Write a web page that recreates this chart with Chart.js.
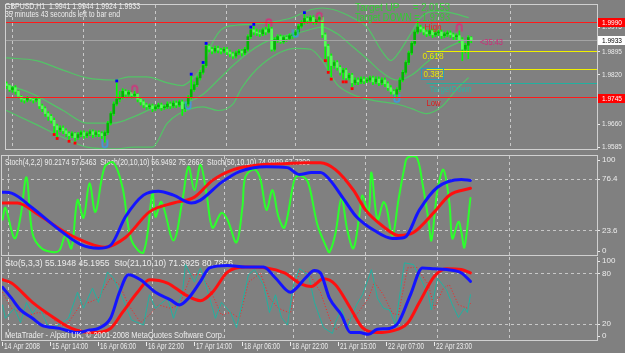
<!DOCTYPE html>
<html>
<head>
<meta charset="utf-8">
<title>GBPUSD,H1</title>
<script src="https://cdn.jsdelivr.net/npm/chart.js@4.4.1/dist/chart.umd.min.js"></script>
<style>
  html, body { margin: 0; padding: 0; background: #808080; }
  #wrap { position: relative; width: 625px; height: 353px; overflow: hidden; background: #808080; }
  canvas { position: absolute; left: 0; }
</style>
</head>
<body>
<div id="wrap">
  <canvas id="priceChart" width="625" height="155" style="top:0px"></canvas>
  <canvas id="stochChart" width="625" height="102" style="top:155px"></canvas>
  <canvas id="stoChart" width="625" height="96" style="top:257px"></canvas>
</div>
<script>
// GBPUSD H1, one candle per hour from 14 Apr 22:00 to 23 Apr 11:00
const opens = [1.9791,1.9785,1.9772,1.9778,1.9766,1.9750,1.9741,1.9738,1.9744,1.9741,1.9738,
  1.9741,1.9719,1.9710,1.9694,1.9685,1.9672,1.9654,1.9641,1.9647,1.9638,
  1.9629,1.9622,1.9629,1.9616,1.9626,1.9632,1.9622,1.9629,1.9635,1.9626,
  1.9632,1.9629,1.9622,1.9632,1.9663,1.9694,1.9725,1.9741,1.9747,1.9766,
  1.9757,1.9763,1.9753,1.9757,1.9741,1.9732,1.9722,1.9716,1.9719,1.9710,
  1.9716,1.9722,1.9713,1.9716,1.9725,1.9719,1.9728,1.9722,1.9732,1.9710,
  1.9725,1.9747,1.9772,1.9788,1.9810,1.9828,1.9850,1.9913,1.9903,1.9897,
  1.9906,1.9900,1.9897,1.9903,1.9894,1.9888,1.9881,1.9891,1.9897,1.9891,
  1.9903,1.9944,1.9966,1.9959,1.9956,1.9953,1.9966,1.9959,1.9969,1.9903,
  1.9934,1.9944,1.9928,1.9941,1.9938,1.9947,1.9950,1.9959,1.9978,1.9991,
  2.0003,1.9997,2.0006,1.9991,2.0000,2.0006,1.9950,1.9913,1.9881,1.9850,
  1.9860,1.9844,1.9828,1.9835,1.9810,1.9819,1.9794,1.9803,1.9797,1.9806,
  1.9800,1.9803,1.9810,1.9797,1.9806,1.9794,1.9803,1.9791,1.9778,1.9766,
  1.9757,1.9772,1.9803,1.9828,1.9860,1.9891,1.9922,1.9959,1.9975,1.9969,
  1.9959,1.9953,1.9963,1.9950,1.9956,1.9959,1.9947,1.9953,1.9956,1.9950,
  1.9944,1.9947,1.9934,1.9903,1.9916,1.9941];
const highs = [1.9797,1.9788,1.9781,1.9785,1.9769,1.9753,1.9747,1.9750,1.9747,1.9744,1.9747,
  1.9744,1.9725,1.9716,1.9700,1.9691,1.9679,1.9660,1.9654,1.9654,1.9644,
  1.9635,1.9635,1.9632,1.9632,1.9638,1.9638,1.9635,1.9641,1.9641,1.9638,
  1.9638,1.9635,1.9638,1.9669,1.9700,1.9732,1.9794,1.9766,1.9775,1.9772,
  1.9769,1.9769,1.9766,1.9760,1.9747,1.9738,1.9728,1.9725,1.9725,1.9722,
  1.9728,1.9728,1.9722,1.9732,1.9732,1.9735,1.9735,1.9738,1.9738,1.9732,
  1.9753,1.9816,1.9797,1.9816,1.9835,1.9853,1.9916,1.9919,1.9909,1.9913,
  1.9913,1.9906,1.9909,1.9909,1.9900,1.9894,1.9897,1.9903,1.9903,1.9909,
  1.9950,1.9969,1.9978,1.9969,1.9966,1.9972,1.9975,1.9984,1.9975,1.9941,
  1.9950,1.9950,1.9947,1.9947,1.9953,1.9956,1.9966,1.9984,1.9997,2.0016,
  2.0009,2.0012,2.0012,2.0006,2.0009,2.0009,1.9956,1.9919,1.9888,1.9866,
  1.9866,1.9850,1.9841,1.9841,1.9825,1.9825,1.9810,1.9810,1.9813,1.9813,
  1.9810,1.9816,1.9816,1.9813,1.9813,1.9810,1.9810,1.9797,1.9785,1.9772,
  1.9778,1.9810,1.9835,1.9866,1.9897,1.9928,1.9966,1.9994,1.9981,1.9975,
  1.9966,1.9969,1.9969,1.9963,1.9966,1.9966,1.9959,1.9963,1.9963,1.9956,
  1.9953,1.9963,1.9941,1.9922,1.9947,1.9944];
const lows = [1.9775,1.9766,1.9763,1.9757,1.9744,1.9732,1.9728,1.9732,1.9735,1.9728,1.9732,
  1.9710,1.9700,1.9685,1.9672,1.9663,1.9632,1.9619,1.9635,1.9629,1.9619,
  1.9610,1.9616,1.9604,1.9610,1.9619,1.9613,1.9616,1.9622,1.9616,1.9619,
  1.9619,1.9613,1.9601,1.9626,1.9657,1.9688,1.9719,1.9732,1.9741,1.9747,
  1.9750,1.9744,1.9747,1.9732,1.9722,1.9713,1.9707,1.9710,1.9700,1.9704,
  1.9710,1.9704,1.9707,1.9710,1.9710,1.9713,1.9713,1.9716,1.9688,1.9700,
  1.9719,1.9741,1.9766,1.9781,1.9803,1.9822,1.9844,1.9894,1.9888,1.9891,
  1.9891,1.9888,1.9891,1.9885,1.9878,1.9872,1.9875,1.9885,1.9881,1.9885,
  1.9897,1.9938,1.9950,1.9947,1.9944,1.9947,1.9950,1.9956,1.9897,1.9897,
  1.9925,1.9922,1.9922,1.9928,1.9931,1.9938,1.9941,1.9953,1.9972,1.9984,
  1.9987,1.9991,1.9984,1.9984,1.9994,1.9941,1.9872,1.9835,1.9813,1.9841,
  1.9835,1.9819,1.9806,1.9803,1.9803,1.9781,1.9788,1.9788,1.9791,1.9791,
  1.9794,1.9797,1.9788,1.9791,1.9785,1.9788,1.9781,1.9769,1.9757,1.9744,
  1.9747,1.9766,1.9797,1.9822,1.9853,1.9885,1.9916,1.9953,1.9959,1.9950,
  1.9944,1.9947,1.9941,1.9944,1.9947,1.9938,1.9941,1.9944,1.9941,1.9934,
  1.9934,1.9925,1.9866,1.9891,1.9872,1.9924];
const closes = [1.9785,1.9772,1.9778,1.9766,1.9750,1.9741,1.9738,1.9744,1.9741,1.9738,1.9741,
  1.9719,1.9710,1.9694,1.9685,1.9672,1.9654,1.9641,1.9647,1.9638,1.9629,
  1.9622,1.9629,1.9616,1.9626,1.9632,1.9622,1.9629,1.9635,1.9626,1.9632,
  1.9629,1.9622,1.9632,1.9663,1.9694,1.9725,1.9741,1.9747,1.9766,1.9757,
  1.9763,1.9753,1.9757,1.9741,1.9732,1.9722,1.9716,1.9719,1.9710,1.9716,
  1.9722,1.9713,1.9716,1.9725,1.9719,1.9728,1.9722,1.9732,1.9710,1.9725,
  1.9747,1.9772,1.9788,1.9810,1.9828,1.9850,1.9913,1.9903,1.9897,1.9906,
  1.9900,1.9897,1.9903,1.9894,1.9888,1.9881,1.9891,1.9897,1.9891,1.9903,
  1.9944,1.9966,1.9959,1.9956,1.9953,1.9966,1.9959,1.9969,1.9903,1.9934,
  1.9944,1.9928,1.9941,1.9938,1.9947,1.9950,1.9959,1.9978,1.9991,2.0003,
  1.9997,2.0006,1.9991,2.0000,2.0006,1.9950,1.9913,1.9881,1.9850,1.9860,
  1.9844,1.9828,1.9835,1.9810,1.9819,1.9794,1.9803,1.9797,1.9806,1.9800,
  1.9803,1.9810,1.9797,1.9806,1.9794,1.9803,1.9791,1.9778,1.9766,1.9757,
  1.9772,1.9803,1.9828,1.9860,1.9891,1.9922,1.9959,1.9975,1.9969,1.9959,
  1.9953,1.9963,1.9950,1.9956,1.9959,1.9947,1.9953,1.9956,1.9950,1.9944,
  1.9947,1.9934,1.9903,1.9916,1.9941,1.9933];

// Bollinger bands, read as [bar, price]
const bandUpper = [[0,1.9875],[10,1.9866],[19,1.9835],[27,1.9810],[36,1.9803],[41,1.9813],[47,1.9813],
  [54,1.9794],[59,1.9785],[62,1.9803],[66,1.9850],[69,1.9922],[72,1.9966],[77,1.9981],[82,1.9984],
  [89,1.9991],[96,2.0006],[101,2.0028],[106,2.0037],[111,2.0028],[116,2.0006],[121,1.9975],[126,1.9897],
  [129,1.9866],[132,1.9897],[136,1.9959],[139,2.0006],[144,2.0028],[149,2.0022],[155,2.0006]];
const bandMiddle = [[0,1.9788],[9,1.9757],[19,1.9704],[27,1.9663],[36,1.9663],[43,1.9685],[49,1.9710],
  [56,1.9725],[61,1.9732],[66,1.9757],[71,1.9803],[76,1.9850],[81,1.9891],[86,1.9922],[92,1.9944],
  [99,1.9959],[106,1.9975],[111,1.9953],[116,1.9913],[121,1.9872],[126,1.9828],[131,1.9803],[136,1.9819],
  [141,1.9860],[146,1.9897],[151,1.9922],[155,1.9934]];
const bandLower = [[0,1.9704],[9,1.9663],[19,1.9616],[27,1.9585],[36,1.9579],[43,1.9585],[49,1.9585],
  [54,1.9663],[62,1.9710],[66,1.9716],[71,1.9704],[76,1.9725],[79,1.9778],[86,1.9856],[97,1.9906],
  [102,1.9903],[106,1.9866],[111,1.9788],[116,1.9757],[121,1.9741],[126,1.9732],[131,1.9725],[136,1.9710],
  [141,1.9694],[146,1.9716],[151,1.9772],[155,1.9810]];

// fractals and signal arrows
const upFractalBars = [37,62,66,67,82,83,100];
const upFractalPrices = [1.9800,1.9822,1.9860,1.9922,1.9975,1.9984,2.0022];
const downFractalBars = [16,17,21,23,107,108,109,113,114,116];
const downFractalPrices = [1.9626,1.9613,1.9604,1.9598,1.9866,1.9828,1.9806,1.9797,1.9797,1.9775];
const sellArrowBars = [43,88,105,152];
const sellArrowPrices = [1.9775,1.9991,2.0012,1.9975];
const buyArrowBars = [33,61,97,131];
const buyArrowPrices = [1.9594,1.9719,1.9953,1.9741];

// levels drawn on the price window
const highLevel = 1.9990;
const lowLevel = 1.9745;
const fibo618 = 1.9896;
const fibo382 = 1.9838;
const targetUp = 2.0153;
const targetDown = 1.9793;
const fiboStartBar = 141;

// price axis and time axis
const priceTicks = [1.9975, 1.9895, 1.9820, 1.9660, 1.9585];
const dayStartBars = [2, 26, 50, 74, 97, 121, 145, 169];
const timeLabelBars = [0, 16, 32, 48, 64, 80, 96, 112, 128, 144];
const timeLabels = ['14 Apr 2008', '15 Apr 14:00', '16 Apr 06:00', '16 Apr 22:00', '17 Apr 14:00',
  '18 Apr 06:00', '18 Apr 22:00', '21 Apr 15:00', '22 Apr 07:00', '22 Apr 23:00'];

// Stoch(4,2,2), Stoch(20,10,10), Stoch(50,10,10) as [bar, value]
const stochFast = [[0,35],[1,47],[4,16],[6,38],[8,78],[10,21],[13,6],[17,2],[19,4],[21,19],[23,6],[25,55],
  [27,37],[29,72],[31,43],[34,88],[37,93],[40,68],[43,14],[47,2],[50,62],[51,38],[53,53],[57,14],[60,55],
  [62,89],[64,65],[66,91],[68,62],[70,27],[73,42],[75,35],[78,12],[80,48],[81,79],[84,86],[86,76],[88,45],
  [90,65],[92,38],[94,27],[97,72],[98,79],[100,79],[102,72],[105,30],[108,7],[109,2],[111,21],[113,57],
  [115,24],[117,6],[119,40],[120,60],[122,42],[123,83],[125,35],[127,53],[128,48],[130,19],[132,55],
  [134,88],[135,98],[138,99],[140,72],[142,35],[143,14],[145,65],[147,86],[149,52],[150,16],[152,33],
  [153,22],[154,7],[156,57]];
const stochMid = [[0,63],[3,62],[10,47],[18,27],[26,10],[32,6],[36,9],[41,38],[47,60],[52,64],[57,60],
  [63,52],[66,55],[73,73],[79,84],[88,89],[95,88],[99,81],[103,83],[106,83],[109,76],[114,55],[118,38],
  [124,24],[130,16],[134,17],[139,45],[145,68],[153,76],[156,75]];
const stochSlow = [[0,52],[5,52],[12,40],[21,22],[28,12],[34,7],[41,17],[49,43],[57,52],[64,58],[70,75],
  [77,86],[86,91],[94,92],[101,93],[106,93],[111,86],[117,65],[121,45],[127,28],[132,19],[137,22],
  [144,43],[149,60],[156,67]];
const stochTicks = [100, 76.4, 23.6, 0];
const stochLevels = [76.4, 23.6];

// Sto(5,3,3) main/signal and Sto(21,10,10) main/signal as [bar, value]
const sto5Main = [[0,43],[1,27],[4,39],[6,22],[8,46],[10,33],[12,43],[15,19],[17,16],[20,22],[22,27],
  [25,58],[27,39],[30,63],[32,46],[35,82],[37,75],[40,51],[43,25],[47,19],[49,55],[51,39],[55,51],[57,27],
  [60,58],[61,91],[64,70],[66,87],[68,64],[71,27],[73,46],[76,34],[78,16],[80,46],[82,79],[84,85],[87,67],
  [89,34],[91,55],[93,28],[95,19],[97,67],[99,86],[102,79],[104,46],[107,16],[110,9],[111,22],[113,39],
  [115,16],[118,43],[120,55],[123,85],[125,51],[127,39],[129,37],[131,19],[134,93],[137,91],[140,70],
  [142,55],[143,37],[145,75],[148,61],[150,43],[152,28],[154,39],[155,34],[156,55]];
const sto5Signal = [[0,58],[3,39],[6,34],[9,31],[12,34],[16,31],[19,16],[22,22],[26,43],[29,46],[32,51],
  [36,75],[39,67],[42,43],[46,22],[49,31],[52,43],[56,39],[59,43],[63,79],[66,79],[69,63],[73,31],[76,34],
  [79,27],[82,70],[86,81],[89,51],[92,39],[96,33],[99,84],[102,82],[106,58],[109,27],[111,13],[115,25],
  [118,31],[122,51],[124,70],[127,55],[130,33],[132,31],[135,87],[138,88],[142,67],[144,39],[147,63],
  [149,67],[152,43],[155,39],[156,45]];
const sto21Main = [[0,64],[3,51],[6,37],[10,27],[13,19],[19,15],[25,10],[29,13],[32,15],[36,27],[39,58],
  [42,79],[46,73],[51,58],[56,49],[59,43],[62,51],[66,71],[69,87],[75,90],[81,88],[87,88],[91,75],[96,58],
  [98,63],[101,75],[104,84],[106,81],[109,51],[113,31],[116,10],[119,10],[122,8],[125,14],[129,15],
  [132,22],[136,55],[140,87],[144,86],[148,85],[153,81],[156,71]];
const sto21Signal = [[0,73],[3,69],[10,46],[17,28],[23,15],[30,10],[36,15],[40,34],[45,58],[49,73],
  [55,69],[61,55],[66,48],[70,58],[75,82],[81,88],[88,87],[94,81],[99,69],[103,65],[107,74],[111,67],
  [116,39],[120,16],[125,10],[130,12],[135,21],[139,46],[144,77],[148,86],[153,85],[156,81]];
const stoTicks = [100, 80, 20, 0];
const stoLevels = [80, 20];

const X_MIN = -0.5, X_MAX = 198.2;
const TEXT = '#ececec';
const GRID = '#c8c8c8';
const FONT = '"Liberation Sans", Arial, sans-serif';

function label(ctx, str, x, y, color, size, width) {
  ctx.font = size + 'px ' + FONT;
  ctx.fillStyle = color;
  ctx.textAlign = 'left';
  ctx.textBaseline = 'middle';
  if (width) ctx.fillText(str, x, y, width);
  else ctx.fillText(str, x, y);
}

function dayGrid(chart) {
  const { ctx, chartArea: a, scales: { x } } = chart;
  ctx.save();
  ctx.strokeStyle = GRID;
  ctx.lineWidth = 1;
  ctx.setLineDash([3, 3]);
  dayStartBars.forEach(b => {
    const px = Math.floor(x.getPixelForValue(b)) + 0.5;
    if (px > a.right) return;
    ctx.beginPath();
    ctx.moveTo(px, a.top);
    ctx.lineTo(px, a.bottom);
    ctx.stroke();
  });
  ctx.restore();
}

function levelGrid(chart, levels) {
  const { ctx, chartArea: a, scales: { y } } = chart;
  ctx.save();
  ctx.strokeStyle = GRID;
  ctx.setLineDash([3, 3]);
  levels.forEach(v => {
    const py = Math.floor(y.getPixelForValue(v)) + 0.5;
    ctx.beginPath();
    ctx.moveTo(a.left, py);
    ctx.lineTo(a.right, py);
    ctx.stroke();
  });
  ctx.restore();
}

function frame(chart) {
  const { ctx, chartArea: a } = chart;
  ctx.save();
  ctx.strokeStyle = '#d0d0d0';
  ctx.lineWidth = 1;
  ctx.strokeRect(a.left + 0.5, Math.floor(a.top) - 0.5, a.right - a.left, Math.ceil(a.bottom) - Math.floor(a.top));
  ctx.restore();
}

function tickLabels(chart, ticks) {
  const { ctx, chartArea: a, scales: { y } } = chart;
  ticks.forEach(v => {
    let py = y.getPixelForValue(v);
    py = Math.min(Math.max(py, a.top + 4), a.bottom - 5);
    ctx.fillStyle = TEXT;
    ctx.fillRect(a.right + 1, Math.floor(py), 2, 1);
    label(ctx, String(v), a.right + 5, py, TEXT, 8);
  });
}

function hLevel(chart, value, fromBar, color) {
  const { ctx, chartArea: a, scales: { x, y } } = chart;
  const py = Math.floor(y.getPixelForValue(value)) + 0.5;
  const px = Math.max(a.left, x.getPixelForValue(fromBar));
  ctx.save();
  ctx.strokeStyle = color;
  ctx.lineWidth = 1;
  ctx.beginPath();
  ctx.moveTo(px, py);
  ctx.lineTo(a.right, py);
  ctx.stroke();
  ctx.restore();
}

function priceBox(chart, value, bg, fg) {
  const { ctx, chartArea: a, scales: { y } } = chart;
  const py = Math.round(y.getPixelForValue(value));
  ctx.fillStyle = bg;
  ctx.fillRect(a.right + 1, py - 4, 27, 9);
  label(ctx, value.toFixed(4), a.right + 5, py + 0.5, fg, 8, 20);
}

function arrowStyle(color, up) {
  const c = document.createElement('canvas');
  c.width = 8; c.height = 10;
  const g = c.getContext('2d');
  g.strokeStyle = color;
  g.lineWidth = 1.6;
  g.beginPath();
  if (up) {
    g.moveTo(1.5, 9.5); g.lineTo(1.5, 4.5); g.arc(4, 4.5, 2.5, Math.PI, 0); g.lineTo(6.5, 9.5);
  } else {
    g.moveTo(1.5, 0.5); g.lineTo(1.5, 5.5); g.arc(4, 5.5, 2.5, Math.PI, 0, true); g.lineTo(6.5, 0.5);
  }
  g.stroke();
  return c;
}

function pairsToPoints(pairs) {
  return pairs.map(p => ({ x: p[0], y: p[1] }));
}

function series(pairs, color, width, extra) {
  return Object.assign({
    type: 'line',
    data: pairsToPoints(pairs),
    borderColor: color,
    borderWidth: width,
    pointRadius: 0,
    fill: false,
    cubicInterpolationMode: 'monotone',
    borderCapStyle: 'round',
    borderJoinStyle: 'round'
  }, extra || {});
}

function baseOptions(yMin, yMax, padding) {
  return {
    responsive: false,
    animation: false,
    devicePixelRatio: 1,
    events: [],
    layout: { padding },
    plugins: { legend: { display: false }, tooltip: { enabled: false } },
    scales: {
      x: { type: 'linear', min: X_MIN, max: X_MAX, offset: false, display: false },
      y: { type: 'linear', min: yMin, max: yMax, display: false }
    }
  };
}

// ---- price window ----
const bars = closes.map((c, i) => i);
const bodyColors = closes.map((c, i) => c >= opens[i] ? '#00b800' : '#55ff55');
const last = closes.length - 1;

const pricePanel = {
  id: 'pricePanel',
  beforeDatasetsDraw(chart) { dayGrid(chart); },
  afterDatasetsDraw(chart) {
    const { ctx, chartArea: a, scales: { x, y } } = chart;
    hLevel(chart, closes[last], X_MIN, '#a4a4a4');
    hLevel(chart, highLevel, X_MIN, '#ff1a1a');
    hLevel(chart, lowLevel, X_MIN, '#ff1a1a');
    hLevel(chart, fibo618, fiboStartBar, '#f0f000');
    hLevel(chart, fibo382, fiboStartBar, '#f0f000');
    hLevel(chart, targetDown, fiboStartBar, '#22b0a0');
    frame(chart);

    // right price scale
    priceTicks.forEach(v => {
      const py = y.getPixelForValue(v);
      ctx.fillStyle = TEXT;
      ctx.fillRect(a.right + 1, Math.floor(py), 2, 1);
      label(ctx, v.toFixed(4), a.right + 5, py, TEXT, 8, 20);
    });
    priceBox(chart, highLevel, '#ff0000', '#ffffff');
    priceBox(chart, closes[last], '#ffffff', '#000000');
    priceBox(chart, lowLevel, '#ff0000', '#ffffff');

    // chart header
    const ohlc = [opens[last], highs[last], lows[last], closes[last]].map(v => v.toFixed(4)).join(' ');
    label(ctx, 'GBPUSD,H1  ' + ohlc, 5, 7, TEXT, 9, 135);
    label(ctx, '35 minutes 43 seconds left to bar end', 5, 15, TEXT, 9, 115);

    // targets
    label(ctx, 'Target UP', 355, 8, '#33cc33', 10, 45);
    label(ctx, '= ' + targetUp.toFixed(4), 413, 8, '#33cc33', 10, 37);
    label(ctx, 'Target DOWN = ' + targetDown.toFixed(4), 355, 18, '#33cc33', 10, 95);

    // fibo texts
    const fx = x.getPixelForValue(fiboStartBar);
    label(ctx, 'High', fx - 2, y.getPixelForValue(highLevel) + 5, '#ee2020', 9, 17);
    label(ctx, 'Low', fx, y.getPixelForValue(lowLevel) + 6, '#e01818', 9, 14);
    label(ctx, '0.618', fx - 4, y.getPixelForValue(fibo618) + 5, '#e8e800', 9, 21);
    const y382 = y.getPixelForValue(fibo382);
    label(ctx, '0.382', fx - 3, y382 + 5, '#e8e800', 9, 20);
    ctx.strokeStyle = '#2aa0b8';
    ctx.lineWidth = 1;
    ctx.strokeRect(Math.floor(fx) - 4.5, Math.floor(y382) - 0.5, 22, 11);
    label(ctx, 'TargetDown', fx + 3, y.getPixelForValue(targetDown) + 6, '#2ab4a4', 9, 42);
    label(ctx, '<35:43', 480, 43, '#d02a7a', 9, 23);
  }
};

new Chart(document.getElementById('priceChart'), {
  type: 'bar',
  data: {
    datasets: [
      { type: 'scatter', data: sellArrowBars.map((b, i) => ({ x: b, y: sellArrowPrices[i] })),
        pointStyle: arrowStyle('#d4307c', true), pointRadius: 4 },
      { type: 'scatter', data: buyArrowBars.map((b, i) => ({ x: b, y: buyArrowPrices[i] })),
        pointStyle: arrowStyle('#3c9ce0', false), pointRadius: 4 },
      { type: 'scatter', data: upFractalBars.map((b, i) => ({ x: b, y: upFractalPrices[i] })),
        pointStyle: 'rect', pointRadius: 2, backgroundColor: '#0000ff', borderWidth: 0 },
      { type: 'scatter', data: downFractalBars.map((b, i) => ({ x: b, y: downFractalPrices[i] })),
        pointStyle: 'rect', pointRadius: 2, backgroundColor: '#ff0000', borderWidth: 0 },
      { type: 'bar', data: bars.map(i => ({ x: i, y: [opens[i], closes[i]] })),
        backgroundColor: bodyColors, barThickness: 2, grouped: false, minBarLength: 1 },
      { type: 'bar', data: bars.map(i => ({ x: i, y: [lows[i], highs[i]] })),
        backgroundColor: '#00ff00', barThickness: 1, grouped: false },
      series(bandUpper, '#52c466', 1.2),
      series(bandMiddle, '#52c466', 1.2),
      series(bandLower, '#52c466', 1.2)
    ]
  },
  options: baseOptions(1.95756, 2.00468, { left: 1, right: 28, top: 2, bottom: 2 }),
  plugins: [pricePanel]
});

// ---- indicator windows ----
function indicatorPanel(id, levels, ticks, caption, captionWidth, extra) {
  return {
    id,
    beforeDatasetsDraw(chart) {
      dayGrid(chart);
      levelGrid(chart, levels);
      label(chart.ctx, caption, 5, chart.chartArea.top + 7, TEXT, 9, captionWidth);
    },
    afterDatasetsDraw(chart) {
      frame(chart);
      tickLabels(chart, ticks);
      if (extra) extra(chart);
    }
  };
}

new Chart(document.getElementById('stochChart'), {
  type: 'line',
  data: {
    datasets: [
      series(stochMid, '#1414ff', 3),
      series(stochSlow, '#ff1010', 3),
      series(stochFast, '#2cff2c', 2, { cubicInterpolationMode: 'default', tension: 0.35 })
    ]
  },
  options: baseOptions(-1.83, 99.8, { left: 1, right: 28, top: 1, bottom: 1 }),
  plugins: [indicatorPanel('stochPanel', stochLevels, stochTicks,
    'Stoch(4,2,2) 90.2174 57.5463  Stoch(20,10,10) 56.9492 75.2662  Stoch(50,10,10) 74.9989 67.7390', 305)]
});

new Chart(document.getElementById('stoChart'), {
  type: 'line',
  data: {
    datasets: [
      series(sto21Main, '#1414ff', 3),
      series(sto21Signal, '#ff1010', 3),
      series(sto5Main, '#20b2a0', 1, { cubicInterpolationMode: 'default', tension: 0 }),
      series(sto5Signal, '#ff2020', 1, { cubicInterpolationMode: 'default', tension: 0, borderDash: [1, 2], borderCapStyle: 'butt' })
    ]
  },
  options: baseOptions(0, 100, { left: 1, right: 28, top: 0, bottom: 12 }),
  plugins: [indicatorPanel('stoPanel', stoLevels, stoTicks,
    'Sto(5,3,3) 55.1948 45.1955  Sto(21,10,10) 71.3925 80.7876', 228, chart => {
      const { ctx, chartArea: a, scales: { x } } = chart;
      label(ctx, 'MetaTrader - Alpari UK, \u00a9 2001-2008 MetaQuotes Software Corp.', 5, a.bottom - 5, TEXT, 9, 219);
      timeLabelBars.forEach((b, i) => {
        const px = Math.floor(x.getPixelForValue(b));
        ctx.fillStyle = TEXT;
        ctx.fillRect(px, a.bottom + 1, 1, 4);
        label(ctx, timeLabels[i], px + 2, a.bottom + 6, TEXT, 9, 36);
      });
    })]
});
</script>
</body>
</html>
